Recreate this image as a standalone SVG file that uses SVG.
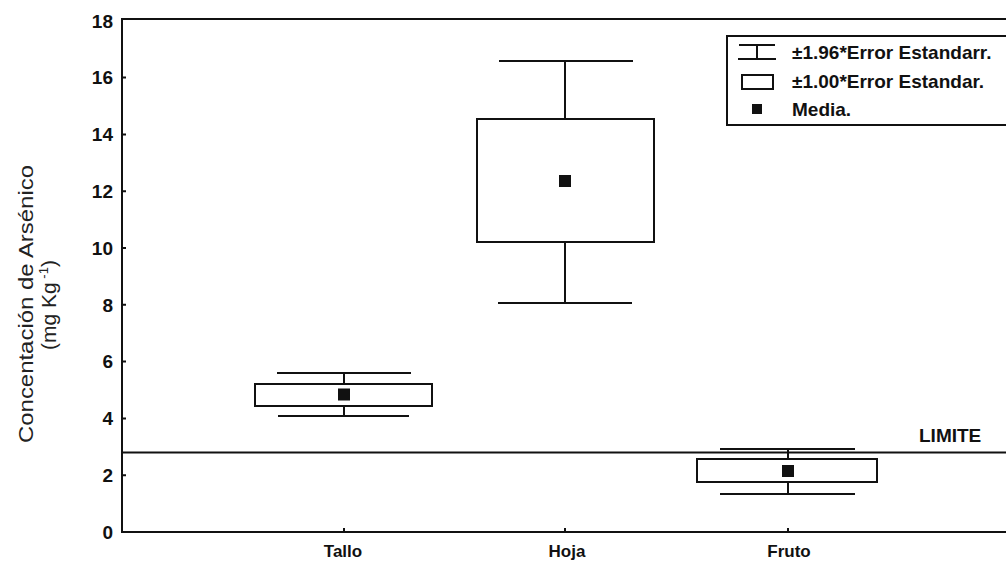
<svg xmlns="http://www.w3.org/2000/svg" width="1006" height="563" viewBox="0 0 1006 563">
<style>
.ax{stroke:#111;stroke-width:2;fill:none}
.bx{stroke:#111;stroke-width:2;fill:#fff}
.wk{stroke:#111;stroke-width:2;fill:none}
.mn{fill:#111}
.tk{font-family:"Liberation Sans",Arial,sans-serif;font-weight:bold;font-size:19px;fill:#111;text-anchor:end}
.cat{font-family:"Liberation Sans",Arial,sans-serif;font-weight:bold;font-size:17px;fill:#111;text-anchor:middle}
.lg{font-family:"Liberation Sans",Arial,sans-serif;font-weight:bold;font-size:19px;fill:#111}
.yl{font-family:"Liberation Sans",Arial,sans-serif;font-size:21px;fill:#222;text-anchor:middle}
</style>
<rect width="1006" height="563" fill="#fff"/>
<g id="axes">
<path class="ax" d="M1010,19 H122 V532 H1010"/>
<path class="ax" stroke-width="1.5" d="M122,475.2h4M122,418.4h4M122,361.6h4M122,304.8h4M122,248h4M122,191.2h4M122,134.4h4M122,77.6h4M344,532v-4M565,532v-4M788,532v-4"/>
<g class="tk">
<text x="113" y="539">0</text>
<text x="113" y="482">2</text>
<text x="113" y="425">4</text>
<text x="113" y="368">6</text>
<text x="113" y="311.5">8</text>
<text x="113" y="254.7">10</text>
<text x="113" y="197.9">12</text>
<text x="113" y="141.1">14</text>
<text x="113" y="84.3">16</text>
<text x="113" y="27.5">18</text>
</g>
<g class="cat">
<text x="343" y="557">Tallo</text>
<text x="567" y="557">Hoja</text>
<text x="789" y="557">Fruto</text>
</g>
<text class="yl" transform="translate(33,304) rotate(-90)" textLength="278" lengthAdjust="spacingAndGlyphs">Concentación de Arsénico</text>
<text class="yl" transform="translate(56,305) rotate(-90)">(mg Kg<tspan font-size="13" dy="-8"> -1</tspan><tspan dy="8">)</tspan></text>
</g>
<g id="limite">
<line class="ax" x1="122" y1="452.5" x2="1010" y2="452.5" stroke-width="1.6"/>
<text class="lg" x="919" y="442" font-size="15">LIMITE</text>
</g>
<g id="connectors">
<path class="wk" d="M277,373H411M344,373V384M344,406V416M278,416H409"/>
<path class="wk" d="M499,61H633M565,61V119M565,242V303M498,303H632"/>
<path class="wk" d="M720,449H855M788,449V459M788,482V494M720,494H855"/>
</g>
<g id="tallo">
<rect class="bx" x="255" y="384" width="177" height="22"/>
<rect class="mn" x="338" y="388.5" width="12" height="12"/>
</g>
<g id="hoja">
<rect class="bx" x="477" y="119" width="177" height="123"/>
<rect class="mn" x="559" y="175" width="12" height="12"/>
</g>
<g id="fruto">
<rect class="bx" x="697" y="459" width="180" height="23"/>
<rect class="mn" x="782" y="465" width="12" height="12"/>
</g>
<g id="legend">
<rect class="bx" x="727" y="36" width="290" height="89"/>
<path class="wk" d="M739,45H775M757,45V59M738,59H776"/>
<rect class="bx" x="742" y="75" width="31" height="14"/>
<rect class="mn" x="752" y="104" width="10" height="10"/>
<text class="lg" x="792" y="59">±1.96*Error Estandarr.</text>
<text class="lg" x="792" y="88">±1.00*Error Estandar.</text>
<text class="lg" x="792" y="116">Media.</text>
</g>
</svg>
